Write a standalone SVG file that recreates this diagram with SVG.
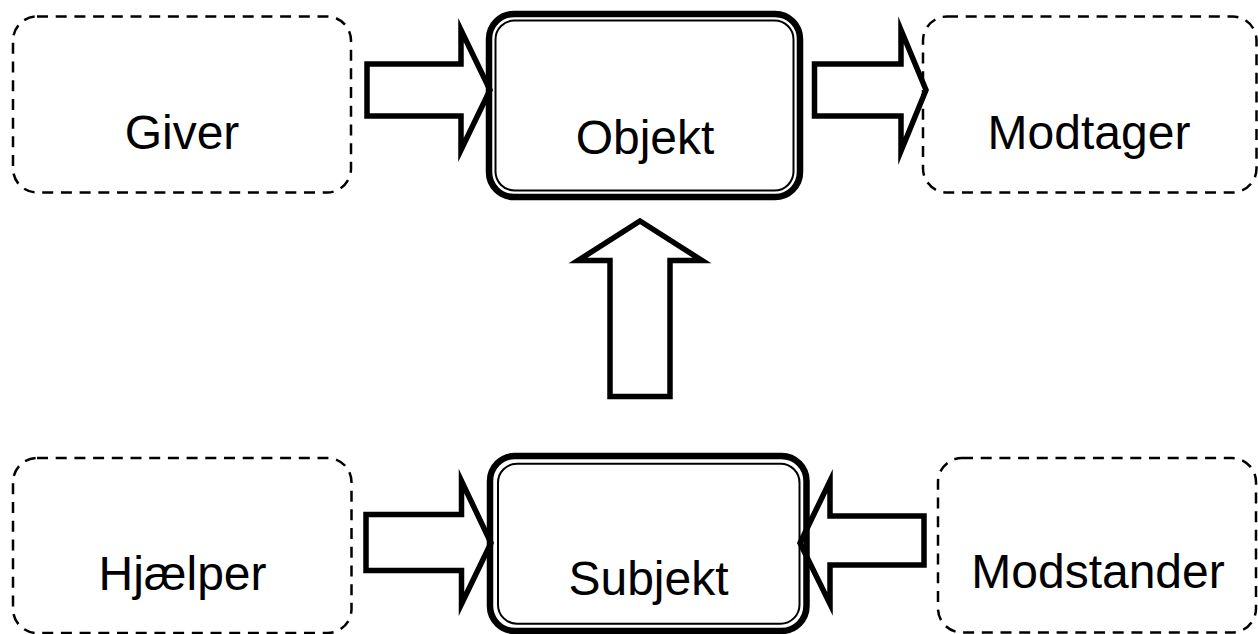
<svg xmlns="http://www.w3.org/2000/svg" width="1258" height="634" viewBox="0 0 1258 634">
  <style>
    .dash { fill: none; stroke: #000; stroke-width: 2.5; stroke-dasharray: 11 7.7; }
    .outer { fill: none; stroke: #000; stroke-width: 6.5; }
    .inner { fill: none; stroke: #000; stroke-width: 2; }
    .arrow { fill: none; stroke: #000; stroke-width: 5.5; stroke-linejoin: miter; stroke-miterlimit: 10; }
    .lbl { font-family: "Liberation Sans", Arial, sans-serif; font-size: 48px; fill: #000; text-anchor: middle; }
  </style>
  <rect width="1258" height="634" fill="#fff"/>

  <g id="connectors">
    <polygon class="arrow" points="367,64 461,64 461,30 490,90 461,150 461,116 367,116"/>
    <polygon class="arrow" points="814.5,64 901,64 901,30 926,90 901,151 901,116 814.5,116"/>
    <polygon class="arrow" points="640,221 702,260.5 670,260.5 670,396.5 610,396.5 610,260.5 578,260.5"/>
    <polygon class="arrow" points="366,514.5 461.5,514.5 461.5,481 491,543 461.5,604 461.5,570.5 366,570.5"/>
    <polygon class="arrow" points="924,516 830,516 830,481 800,543 830,604 830,565 924,565"/>
  </g>

  <g id="giver">
    <rect class="dash" x="13" y="16.5" width="338" height="176" rx="24"/>
    <text class="lbl" x="182" y="149">Giver</text>
  </g>

  <g id="objekt">
    <rect class="outer" x="489" y="14" width="311" height="183" rx="25"/>
    <rect class="inner" x="495.5" y="20.5" width="298" height="170" rx="19"/>
    <text class="lbl" x="645" y="154">Objekt</text>
  </g>

  <g id="modtager">
    <rect class="dash" x="923" y="16.5" width="333.5" height="176" rx="24"/>
    <text class="lbl" x="1089" y="149">Modtager</text>
  </g>

  <g id="hjaelper">
    <rect class="dash" x="13" y="458" width="338.5" height="175" rx="24"/>
    <text class="lbl" x="182.5" y="590">Hjælper</text>
  </g>

  <g id="subjekt">
    <rect class="outer" x="490" y="456" width="316.5" height="175" rx="25"/>
    <rect class="inner" x="498" y="463.7" width="301.5" height="160" rx="19"/>
    <text class="lbl" x="648.5" y="595">Subjekt</text>
  </g>

  <g id="modstander">
    <rect class="dash" x="938" y="458" width="318" height="174.5" rx="24"/>
    <text class="lbl" x="1098" y="588">Modstander</text>
  </g>
</svg>
